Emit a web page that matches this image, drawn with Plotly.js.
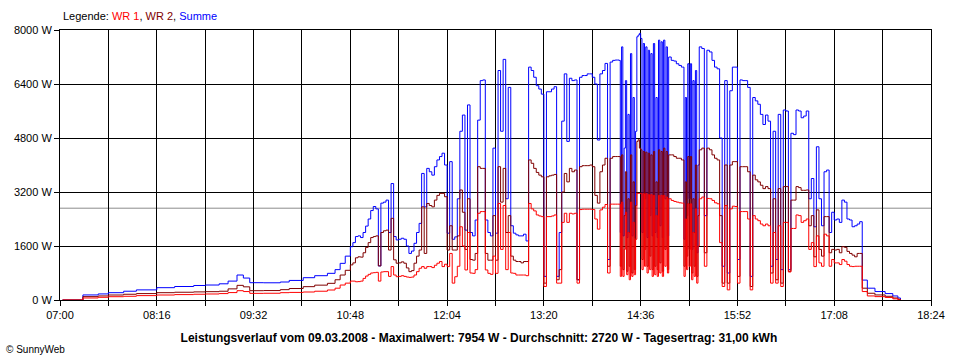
<!DOCTYPE html>
<html>
<head>
<meta charset="utf-8">
<script src="https://cdn.plot.ly/plotly-3.0.1.min.js"></script>
<style>
html,body{margin:0;padding:0;background:#fff;}
#chart{width:960px;height:360px;}
</style>
</head>
<body>
<div id="chart"></div>
<script>
const day = '2008-03-09';
const times = [
'07:02','07:17','07:18','07:30','07:38','07:50','08:00','08:16','08:30','08:45','08:54','09:05','09:12','09:19','09:24','09:29','09:40','09:53','10:00','10:11','10:20','10:30','10:36','10:40','10:44',
'10:48','10:50','10:52','10:54','10:56','10:58','11:00','11:02','11:04','11:06','11:08','11:10','11:12','11:14','11:16','11:18','11:20','11:22','11:24','11:26','11:28','11:30','11:32','11:34','11:36','11:38','11:40','11:42','11:44','11:46','11:48','11:50','11:52','11:54','11:56','11:58',
'12:00','12:02','12:04','12:06','12:08','12:10','12:12','12:14','12:16','12:18','12:20','12:22','12:24','12:26','12:28','12:30','12:32','12:34','12:36','12:38','12:40','12:42','12:44','12:46','12:48','12:50','12:52','12:54','12:56','12:58',
'13:00','13:02','13:04','13:06','13:08','13:10','13:12','13:14','13:16','13:18','13:20','13:22','13:24','13:26','13:28','13:30','13:32','13:34','13:36','13:38','13:40','13:42','13:44','13:46','13:48','13:50','13:52','13:54','13:56','13:58',
'14:00','14:02','14:04','14:06','14:08','14:10','14:12','14:14','14:16','14:18',
'14:19','14:20','14:21','14:22','14:23','14:24','14:25','14:26','14:27','14:28','14:29','14:30','14:31','14:32','14:33','14:34','14:35','14:36','14:37','14:38',
'14:39','14:40','14:41','14:42','14:43','14:44','14:45','14:46','14:47','14:48','14:49','14:50','14:51','14:52','14:53','14:54','14:55','14:56','14:57','14:58',
'15:00','15:02','15:04','15:06','15:08','15:09','15:10','15:11','15:12','15:13','15:14','15:15','15:16','15:17','15:18','15:19','15:20','15:21',
'15:22','15:24','15:26','15:28','15:30','15:32','15:34','15:36','15:38','15:40','15:42','15:44','15:46','15:48','15:50','15:52','15:54','15:56','15:58',
'16:00','16:02','16:04','16:06','16:08','16:10','16:12','16:14','16:16','16:18','16:20','16:22','16:24','16:26','16:28','16:30','16:32','16:34','16:36','16:38','16:40','16:42','16:44','16:46','16:48','16:50','16:52','16:54','16:56','16:58',
'17:00','17:02','17:04','17:06','17:08','17:10','17:12','17:14','17:16','17:18','17:20','17:22','17:24','17:26','17:28','17:30','17:34','17:40','17:48','17:54','17:58','18:00'
];
const summe = [
0,0,150,180,217,260,300,365,400,430,444,480,560,740,650,513,510,533,580,661,720,790,900,1086,1300,
1580,1700,1880,1900,1850,2000,2190,2400,2650,2770,2700,1010,2870,2900,2960,2000,3450,1880,1780,1800,1830,1800,1600,1380,1450,1680,2000,2270,3750,2760,3900,3800,3700,3950,4150,4250,
4350,4000,1980,4100,1800,1870,3000,5000,5480,2070,5780,2000,1900,2370,5330,6500,6520,2370,2000,1900,4500,1980,6800,5000,7130,3000,6300,2200,1980,1930,
1900,1900,1950,1750,6900,6800,6600,6350,6250,6100,700,6170,6170,6250,6320,700,2000,5300,6700,4700,6570,6500,6520,600,6600,6650,6650,6700,6700,6600,
6400,4740,6700,6800,7010,1200,7050,7100,7110,7110,
7100,2000,7500,1900,4500,6500,1850,5500,2000,7300,1900,6000,1850,5000,7800,7850,7900,7750,2000,7600,
3000,7500,1850,7400,2500,7300,1900,7600,2000,6000,1850,7700,2200,7650,1850,7700,3000,7500,1900,7200,
7100,7080,7000,6950,6900,6900,1800,6000,2500,7000,3000,7000,1500,6500,2000,6800,1400,4000,
7500,7450,2500,7400,7350,7100,6900,6850,4800,1000,6500,800,6200,6900,6900,1200,6520,6500,6500,
6300,700,6000,5900,5800,5500,5200,5480,5300,1000,5000,1200,5500,900,5630,5600,900,4940,4900,5630,5600,5400,5450,5600,3000,3600,2170,4540,3000,2200,
3800,3850,2000,2600,2370,2400,2300,2960,2900,2400,2370,2170,2200,2250,2320,590,350,250,190,120,60,0
];
const wr2 = [
0,0,100,120,148,170,190,217,230,240,247,260,330,434,390,276,280,306,340,395,440,494,600,740,880,
1040,1100,1250,1280,1270,1400,1560,1700,1850,1880,1900,1010,2000,2050,2070,1480,2420,1190,1090,1100,1130,1090,950,840,870,1090,1300,1480,2760,1380,2860,2800,2760,2960,3100,3160,
3160,3060,1480,2200,1480,1480,1900,3260,2600,1500,3000,1200,1180,1380,3950,3900,3900,1380,1180,1180,2500,1180,3950,2900,3900,2000,2500,1300,1180,1140,
1140,1100,1140,1140,4150,4050,3900,3780,3700,3650,500,3650,3680,3700,3720,600,900,3200,3750,3500,3900,3800,3850,600,3950,3980,3980,3980,4000,3950,
3100,2870,3800,4000,4200,1000,4200,4250,4250,4250,
4250,1000,4300,900,2500,3800,850,3000,1000,4300,800,3500,900,2800,4700,4750,4500,4450,1200,4400,
1500,4380,1000,4350,1300,4300,900,4400,1000,3500,900,4450,1100,4400,850,4500,1500,4400,900,4300,
4300,4250,4200,4200,4150,4150,1000,3500,1300,4250,1500,4250,800,3000,1000,4000,700,2500,
4450,4500,1400,4500,4450,4300,4200,4150,2500,500,4000,500,4000,4100,4100,700,3950,3950,3950,
3800,400,3700,3560,3500,3400,3300,3360,3300,800,3000,600,3300,500,3360,3360,850,2960,2960,3360,3330,3250,3250,3260,2200,2500,1280,2670,1500,1300,
2470,2470,1400,1500,1480,1500,1400,1580,1560,1440,1380,1330,1280,1380,1380,350,200,150,110,60,20,0
];
const wr1 = [
0,0,60,80,98,110,130,148,160,170,178,190,220,276,250,197,200,217,225,237,260,296,350,444,500,
560,560,540,545,560,640,710,760,800,810,820,560,830,840,840,700,990,740,690,700,720,700,680,670,680,740,840,940,990,940,990,990,960,1030,1090,1140,
990,1060,990,1380,500,690,1000,2170,1600,890,2000,800,790,900,2570,2620,2620,890,790,760,1300,790,2860,1500,2800,900,2000,800,790,740,
740,740,740,720,2860,2700,2640,2520,2490,2470,400,2470,2470,2490,2520,500,500,2300,2570,2300,2570,2550,2570,500,2680,2690,2690,2690,2690,2680,
2400,2100,2670,2750,2830,800,2840,2840,2840,2840,
2840,700,2900,700,1500,2600,750,2000,600,2900,700,2300,750,1800,3160,3160,3160,3150,900,3150,
1000,3150,800,3120,900,3120,700,3100,750,2500,700,3100,800,3100,700,3100,1000,3050,800,3000,
2950,2920,2900,2880,2870,2870,700,2400,900,2850,1000,2850,600,2000,700,2700,500,1600,
3000,3050,1000,3010,3000,2950,2880,2850,1700,400,2800,300,2700,2780,2770,500,2620,2620,2620,
2400,300,2500,2400,2350,2250,2200,2250,2200,500,2000,500,2200,400,2300,2300,830,2120,2120,2520,2500,2300,2350,2400,1500,1700,990,1900,1100,1000,
1950,1900,1000,1200,1100,1100,1050,1200,1150,1050,1000,990,1000,1000,1000,250,120,100,75,35,10,0
];
const average = 2720;
const yTicks = [0,1600,3200,4800,6400,8000];
const yTickLabels = ['0 W','1600 W','3200 W','4800 W','6400 W','8000 W'];
const xTickTimes = ['07:00','07:38','08:16','08:54','09:32','10:10','10:48','11:26','12:04','12:42','13:20','13:58','14:36','15:14','15:52','16:30','17:08','17:46','18:24'];
const xTickLabels = ['07:00','','08:16','','09:32','','10:48','','12:04','','13:20','','14:36','','15:52','','17:08','','18:24'];
const titleText = 'Leistungsverlauf vom 09.03.2008 - Maximalwert: 7954 W - Durchschnitt: 2720 W - Tagesertrag: 31,00 kWh';

const x = times.map(t => day + ' ' + t);
const xTickVals = xTickTimes.map(t => day + ' ' + t);
const font = 'Liberation Sans, Arial, sans-serif';

const mk = (y, color, name) => ({
  x: x, y: y, type: 'scatter', mode: 'lines', name: name,
  line: {color: color, width: 1, shape: 'hv'}, hoverinfo: 'skip'
});

const data = [
  mk(summe, '#0000FF', 'Summe'),
  mk(wr2, '#800000', 'WR 2'),
  mk(wr1, '#FF0000', 'WR 1')
];

const layout = {
  width: 960, height: 360,
  margin: {l: 60, r: 29, t: 30, b: 60},
  paper_bgcolor: '#ffffff', plot_bgcolor: '#ffffff',
  showlegend: false,
  font: {family: font, size: 11, color: '#000'},
  title: {text: '<b>' + titleText + '</b>', font: {family: font, size: 12, color: '#000'},
          xref: 'paper', x: 0.481, xanchor: 'center', yref: 'container', y: 1 - 338/360, yanchor: 'middle'},
  xaxis: {
    type: 'date',
    range: [day + ' 07:00', day + ' 18:24'],
    tickmode: 'array', tickvals: xTickVals, ticktext: xTickLabels,
    showgrid: true, gridcolor: '#000', gridwidth: 1,
    showline: true, linecolor: '#000', linewidth: 1, mirror: true,
    ticks: 'outside', ticklen: 5, tickcolor: '#000',
    zeroline: false,
    tickfont: {family: font, size: 11, color: '#000'}
  },
  yaxis: {
    range: [0, 8000],
    tickmode: 'array', tickvals: yTicks, ticktext: yTickLabels,
    showgrid: true, gridcolor: '#000', gridwidth: 1,
    showline: true, linecolor: '#000', linewidth: 1, mirror: true,
    ticks: 'outside', ticklen: 5, tickcolor: '#000',
    zeroline: false,
    tickfont: {family: font, size: 11, color: '#000'}
  },
  shapes: [{type: 'line', xref: 'paper', x0: 0, x1: 1, yref: 'y', y0: average, y1: average,
            line: {color: '#8c8c8c', width: 1}, layer: 'below'}],
  annotations: [
    {xref: 'paper', yref: 'paper', x: 0, y: 1, xanchor: 'left', yanchor: 'bottom', xshift: 1, yshift: 6,
     showarrow: false, font: {family: font, size: 11, color: '#000'},
     text: 'Legende: <span style="color:#FF0000">WR 1</span>, <span style="color:#800000">WR 2</span>, <span style="color:#0000FF">Summe</span>'},
    {xref: 'paper', yref: 'paper', x: 0, y: 0, xanchor: 'left', yanchor: 'middle', xshift: -56, yshift: -49,
     showarrow: false, font: {family: font, size: 10, color: '#000'}, text: '© SunnyWeb'}
  ]
};

Plotly.newPlot('chart', data, layout, {displayModeBar: false, staticPlot: true, responsive: false});
</script>
</body>
</html>
